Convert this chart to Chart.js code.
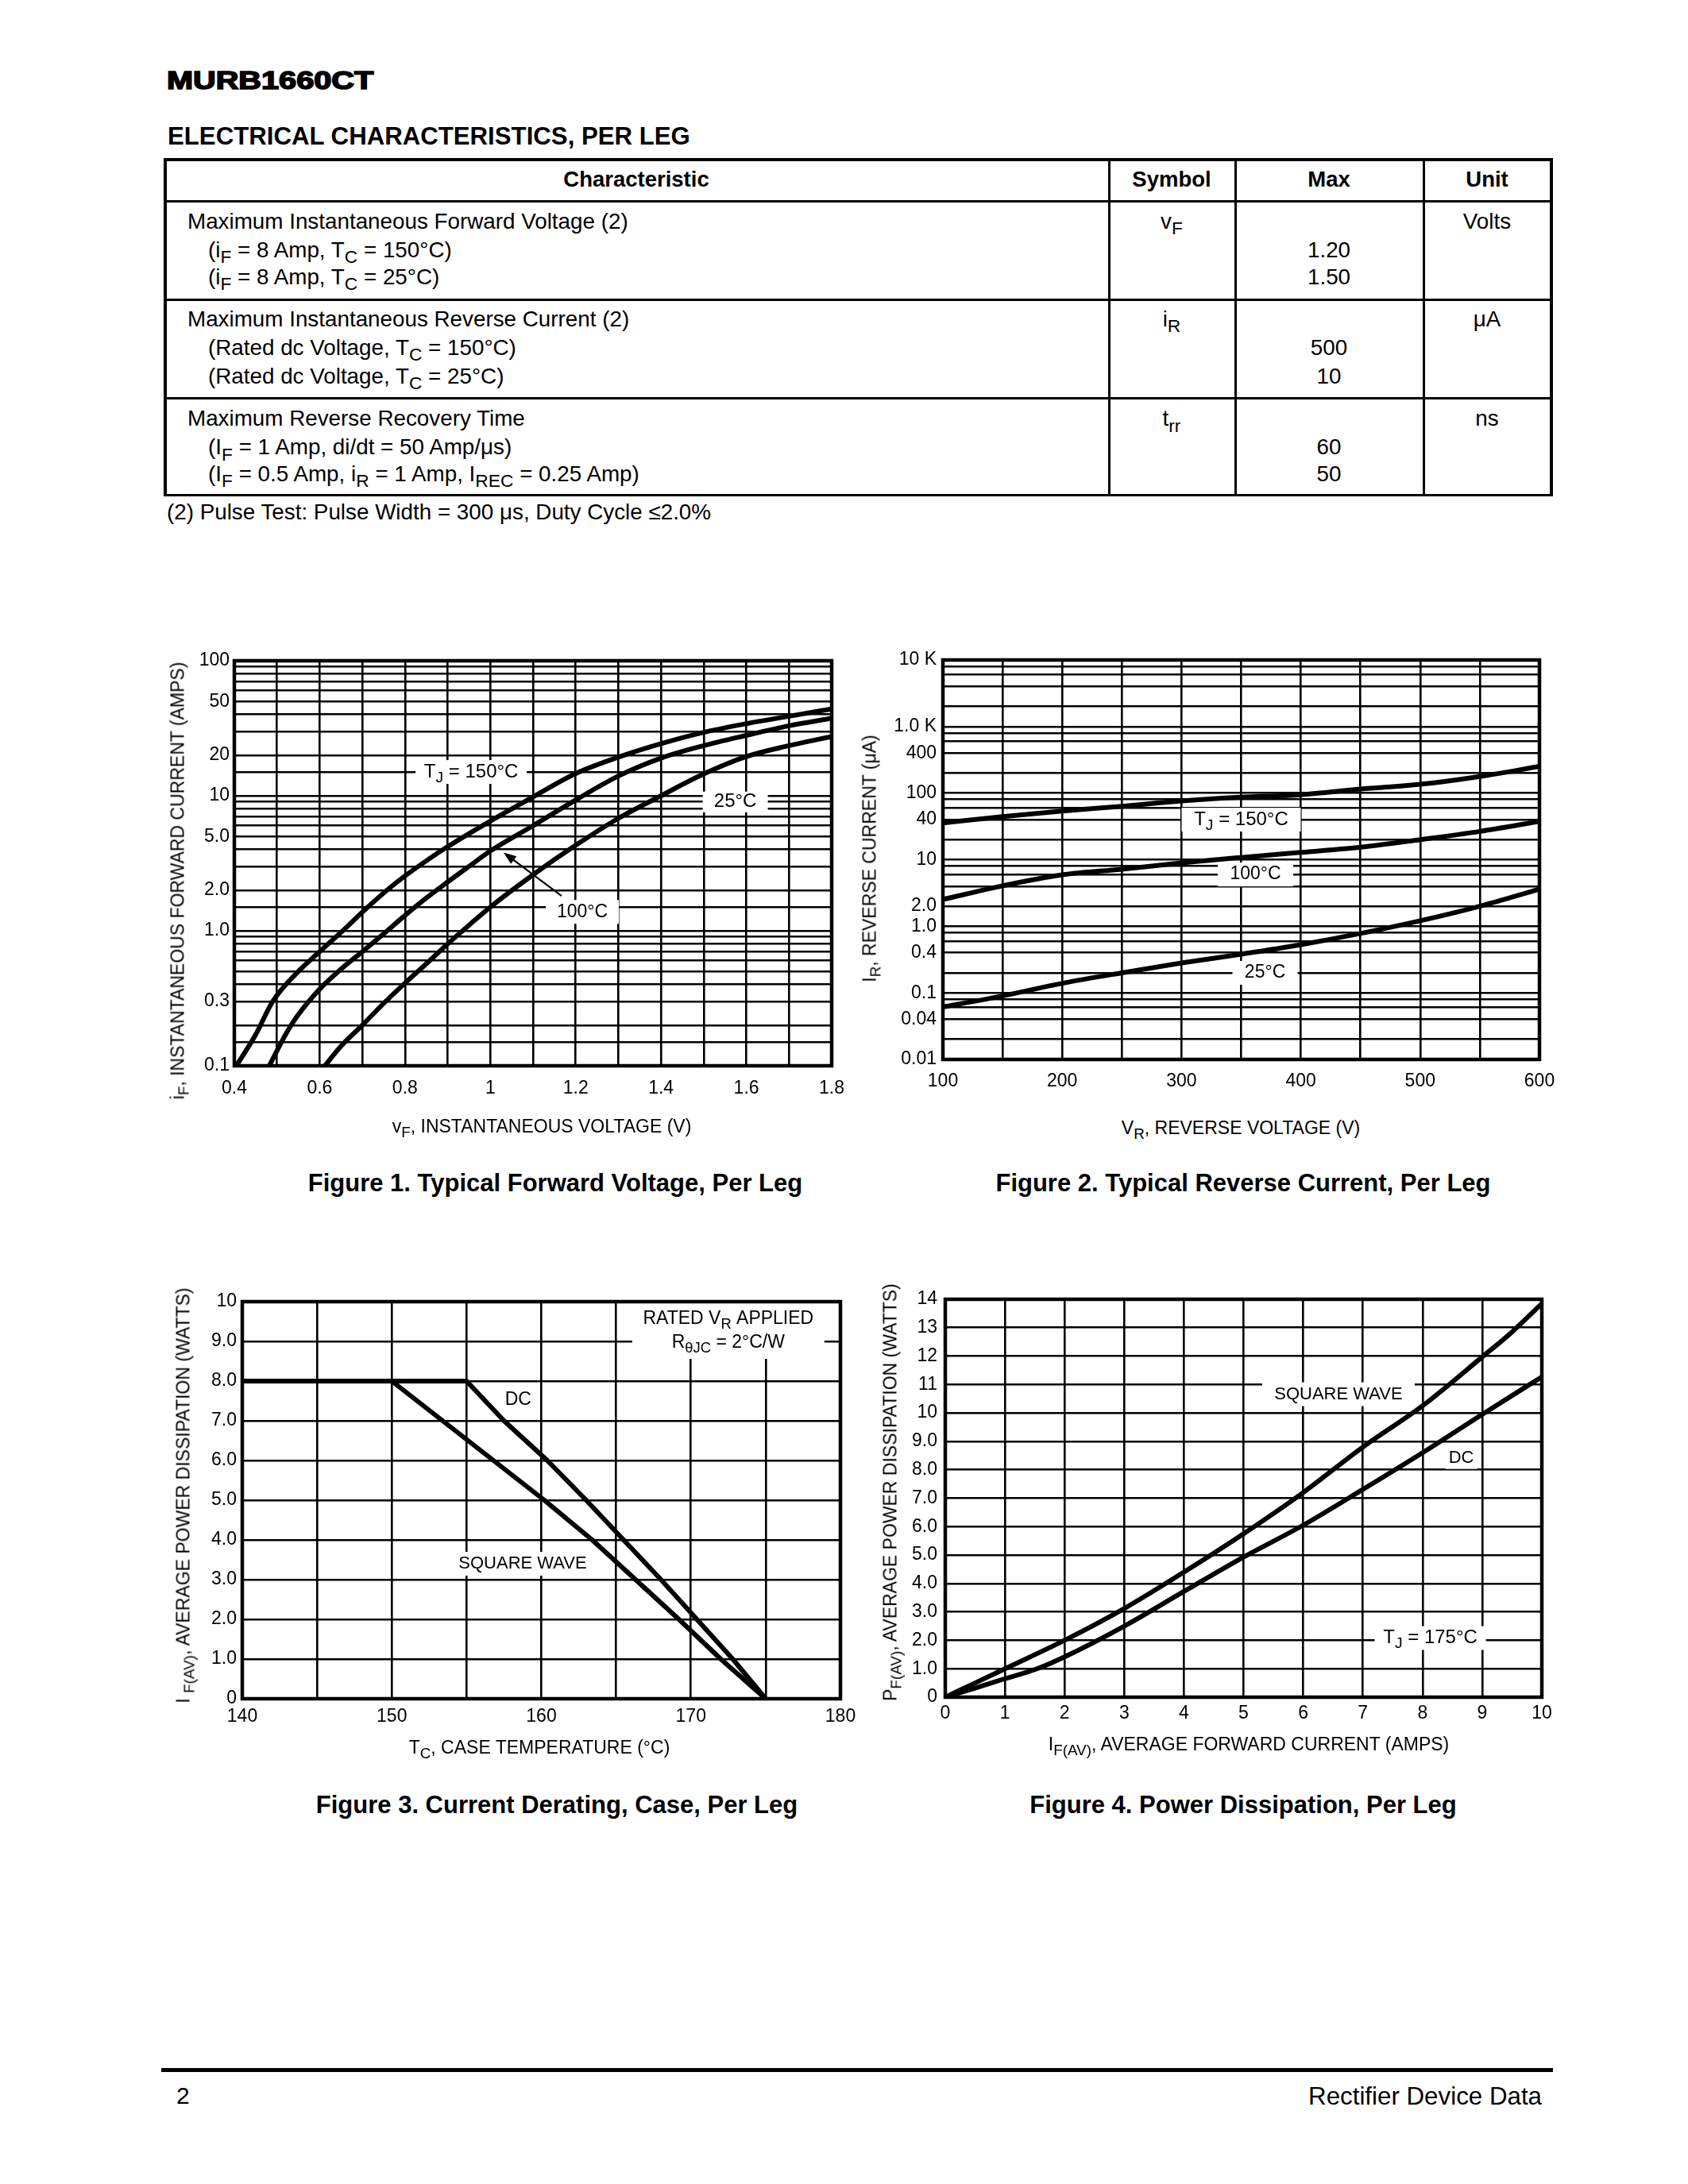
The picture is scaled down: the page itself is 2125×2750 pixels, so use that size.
<!DOCTYPE html>
<html>
<head>
<meta charset="utf-8">
<title>MURB1660CT</title>
<script src="https://cdn.jsdelivr.net/npm/chart.js@4.4.1/dist/chart.umd.min.js"></script>
<style>
html,body{margin:0;padding:0;background:#fff;}
body{position:relative;width:2125px;height:2750px;overflow:hidden;font-family:"Liberation Sans",Arial,Helvetica,sans-serif;color:#000;}
.tx{position:absolute;white-space:nowrap;line-height:1;}
.sb{font-size:0.82em;position:relative;top:0.32em;}
.hl{position:absolute;background:#000;}
canvas{position:absolute;}
</style>
</head>
<body>
<script>
// ---------------- DATA ----------------
// Figure 1: forward voltage (V) vs forward current (A), log current axis
const fig1V150 = [0.405,0.45,0.49,0.55,0.6,0.654,0.708,0.758,0.8,0.85,0.9,1.0,1.1,1.2,1.3,1.4,1.5,1.6,1.7,1.8];
const fig1I150 = [0.1,0.17,0.3,0.5,0.7,1.0,1.45,2.0,2.55,3.3,4.2,6.5,9.8,14.6,19.3,24.3,29.5,34.2,38.8,44];
const fig1V100 = [0.482,0.52,0.546,0.6,0.65,0.7,0.75,0.8,0.85,0.9,0.95,1.0,1.1,1.2,1.3,1.4,1.5,1.6,1.7,1.8];
const fig1I100 = [0.1,0.17,0.23,0.37,0.52,0.7,0.95,1.3,1.75,2.3,3.0,3.9,6.0,9.3,14,19,23.5,28,33,37.5];
const fig1V25  = [0.612,0.65,0.7,0.75,0.8,0.85,0.9,0.95,1.0,1.1,1.2,1.3,1.4,1.5,1.6,1.7,1.8];
const fig1I25  = [0.1,0.14,0.2,0.29,0.41,0.57,0.8,1.1,1.5,2.6,4.3,6.8,10,14.5,19.5,23.5,27.5];
const fig1XTicks = [0.4,0.5,0.6,0.7,0.8,0.9,1.0,1.1,1.2,1.3,1.4,1.5,1.6,1.7,1.8];
const fig1XLabels = ['0.4','','0.6','','0.8','','1','','1.2','','1.4','','1.6','','1.8'];
const fig1YTicks = [0.1,0.15,0.2,0.3,0.4,0.5,0.6,0.7,0.8,0.9,1,1.5,2,3,4,5,6,7,8,9,10,15,20,30,40,50,60,70,80,90,100];
const fig1YLabels = ['0.1','','','0.3','','','','','','','1.0','','2.0','','','5.0','','','','','10','','20','','','50','','','','','100'];

// Figure 2: reverse voltage (V) vs reverse current (uA), log current axis
const fig2Volt = [100,150,200,250,300,350,400,450,500,550,600];
const fig2I150 = [35.6,44.3,53.8,63.3,76.2,86.9,94.7,115,135.5,178,252];
const fig2I100 = [2.53,4.05,5.92,7.2,8.94,10.8,12.9,15.4,20,26.6,37.6];
const fig2I25  = [0.0614,0.0898,0.139,0.2,0.281,0.381,0.53,0.78,1.21,2.0,3.6];
const fig2XTicks = [100,150,200,250,300,350,400,450,500,550,600];
const fig2XLabels = ['100','','200','','300','','400','','500','','600'];
const fig2YTicks = [0.01,0.02,0.04,0.06,0.08,0.1,0.2,0.4,0.6,0.8,1,2,4,6,8,10,20,40,60,80,100,200,400,600,800,1000,2000,4000,6000,8000,10000];
const fig2YLabels = ['0.01','','0.04','','','0.1','','0.4','','','1.0','2.0','','','','10','','40','','','100','','400','','','1.0 K','','','','','10 K'];

// Figure 3: case temperature (C) vs average current derating
const fig3TempDC = [140,155,157.5,160.4,163.0,165.5,168.0,170.4,172.8,175];
const fig3DC     = [8,8,7,6,5,4,3,2,1,0];
const fig3TempSQ = [140,150,153.4,156.8,160.2,163.4,166.3,169.2,172,175];
const fig3SQ     = [8,8,7,6,5,4,3,2,1,0];
const fig3XTicks = [140,145,150,155,160,165,170,175,180];
const fig3XLabels = ['140','','150','','160','','170','','180'];
const fig3YTicks = [0,1,2,3,4,5,6,7,8,9,10];
const fig3YLabels = ['0','1.0','2.0','3.0','4.0','5.0','6.0','7.0','8.0','9.0','10'];

// Figure 4: average forward current (A) vs power dissipation (W)
const fig4AmpSQ = [0,0.5,1,2,3,4,5,6,7,8,9,9.5,10];
const fig4SQ    = [0,0.5,1.0,2.0,3.12,4.4,5.75,7.2,8.8,10.25,11.97,12.85,13.85];
const fig4AmpDC = [0,0.5,1,1.5,2,3,4,5,6,7,8,9,10];
const fig4DC    = [0,0.32,0.65,0.97,1.42,2.5,3.72,4.93,6.05,7.31,8.6,9.95,11.27];
const fig4XTicks = [0,1,2,3,4,5,6,7,8,9,10];
const fig4XLabels = ['0','1','2','3','4','5','6','7','8','9','10'];
const fig4YTicks = [0,1,2,3,4,5,6,7,8,9,10,11,12,13,14];
const fig4YLabels = ['0','1.0','2.0','3.0','4.0','5.0','6.0','7.0','8.0','9.0','10','11','12','13','14'];

// ---------------- PAGE TEXT HELPERS ----------------
function addText(html, x, y, size, o) {
  o = o || {};
  const d = document.createElement('div');
  d.className = 'tx';
  d.innerHTML = html;
  d.style.fontSize = size + 'px';
  if (o.bold) d.style.fontWeight = 'bold';
  d.style.left = x + 'px';
  let tf = '';
  if (o.rotate) {
    d.style.top = y + 'px';
    tf = 'translate(-50%,-50%) rotate(-90deg)';
  } else {
    d.style.top = (y - 0.49 * size) + 'px';
    if (o.align === 'center') tf = 'translateX(-50%)';
    if (o.align === 'right') tf = 'translateX(-100%)';
  }
  if (o.scaleX) { tf += ' scaleX(' + o.scaleX + ')'; d.style.transformOrigin = 'left center'; }
  if (o.stroke) d.style.webkitTextStroke = o.stroke + 'px #000';
  d.style.transform = tf;
  document.body.appendChild(d);
}
function addRect(x, y, w, h) {
  const d = document.createElement('div');
  d.className = 'hl';
  d.style.left = x + 'px'; d.style.top = y + 'px';
  d.style.width = w + 'px'; d.style.height = h + 'px';
  document.body.appendChild(d);
}
const S = s => '<span class="sb">' + s + '</span>';

// ---------------- HEADER + TABLE ----------------
addText('MURB1660CT', 210, 101, 31, {bold: true, scaleX: 1.28, stroke: 1.6});
addText('ELECTRICAL CHARACTERISTICS, PER LEG', 211, 171, 31.2, {bold: true});

const colX = [206, 1395, 1554, 1791, 1951];
const rowY = [199, 252, 375.5, 499.5, 621.5];
rowY.forEach((y, i) => addRect(206, y, 1749, (i === 0 || i === 4) ? 3.5 : 3));
colX.forEach((x, i) => addRect(x, 199, (i === 0 || i === 4) ? 3.5 : 2.5, 426));

addText('Characteristic', 801, 225, 27.5, {bold: true, align: 'center'});
addText('Symbol', 1475, 225, 27.5, {bold: true, align: 'center'});
addText('Max', 1673, 225, 27.5, {bold: true, align: 'center'});
addText('Unit', 1872, 225, 27.5, {bold: true, align: 'center'});

const rows = [
  {y: [278.6, 314.4, 348.2],
   lines: ['Maximum Instantaneous Forward Voltage (2)', '(i' + S('F') + ' = 8 Amp, T' + S('C') + ' = 150°C)', '(i' + S('F') + ' = 8 Amp, T' + S('C') + ' = 25°C)'],
   sym: 'v' + S('F'), max: ['1.20', '1.50'], unit: 'Volts'},
  {y: [401.8, 437.6, 473.4],
   lines: ['Maximum Instantaneous Reverse Current (2)', '(Rated dc Voltage, T' + S('C') + ' = 150°C)', '(Rated dc Voltage, T' + S('C') + ' = 25°C)'],
   sym: 'i' + S('R'), max: ['500', '10'], unit: 'μA'},
  {y: [527, 563, 596.6],
   lines: ['Maximum Reverse Recovery Time', '(I' + S('F') + ' = 1 Amp, di/dt = 50 Amp/μs)', '(I' + S('F') + ' = 0.5 Amp, i' + S('R') + ' = 1 Amp, I' + S('REC') + ' = 0.25 Amp)'],
   sym: 't' + S('rr'), max: ['60', '50'], unit: 'ns'}
];
rows.forEach(r => {
  r.lines.forEach((t, i) => addText(t, i === 0 ? 236 : 262, r.y[i], 27.8));
  addText(r.sym, 1475, r.y[0], 27.8, {align: 'center'});
  addText(r.max[0], 1673, r.y[1], 27.8, {align: 'center'});
  addText(r.max[1], 1673, r.y[2], 27.8, {align: 'center'});
  addText(r.unit, 1872, r.y[0], 27.8, {align: 'center'});
});
addText('(2) Pulse Test: Pulse Width = 300 μs, Duty Cycle ≤2.0%', 210, 645, 27.8);

// ---------------- CHART PLUGIN ----------------
function drawParts(ctx, parts, cx, cy, size) {
  const fontFor = sub => (sub ? size * 0.8 : size) + 'px "Liberation Sans", Arial, sans-serif';
  let total = 0;
  parts.forEach(p => { ctx.font = fontFor(p[1]); total += ctx.measureText(p[0]).width; });
  let x = cx - total / 2;
  ctx.textBaseline = 'middle';
  ctx.textAlign = 'left';
  parts.forEach(p => {
    ctx.font = fontFor(p[1]);
    ctx.fillText(p[0], x, cy + (p[1] ? size * 0.3 : 0));
    x += ctx.measureText(p[0]).width;
  });
}
const sheetPlugin = {
  id: 'sheet',
  beforeDatasetsDraw(chart, args, opts) {
    const ctx = chart.ctx;
    ctx.save();
    (opts.notes || []).forEach(n => {
      const px = chart.scales.x.getPixelForValue(n.x);
      const py = chart.scales.y.getPixelForValue(n.y);
      ctx.fillStyle = '#fff';
      ctx.fillRect(px - n.w / 2, py - n.h / 2, n.w, n.h);
      ctx.fillStyle = '#000';
      const gap = n.gap || 30;
      n.lines.forEach((parts, i) => drawParts(ctx, parts, px, py + (i - (n.lines.length - 1) / 2) * gap, n.size || 23));
    });
    ctx.restore();
  },
  afterDatasetsDraw(chart, args, opts) {
    const ctx = chart.ctx, a = chart.chartArea;
    ctx.save();
    (opts.arrows || []).forEach(ar => {
      const x0 = chart.scales.x.getPixelForValue(ar.from[0]), y0 = chart.scales.y.getPixelForValue(ar.from[1]);
      const x1 = chart.scales.x.getPixelForValue(ar.to[0]), y1 = chart.scales.y.getPixelForValue(ar.to[1]);
      const ang = Math.atan2(y1 - y0, x1 - x0), hl = 16, hw = 6;
      ctx.strokeStyle = '#000'; ctx.lineWidth = 2.2;
      ctx.beginPath(); ctx.moveTo(x0, y0);
      ctx.lineTo(x1 - Math.cos(ang) * hl * 0.8, y1 - Math.sin(ang) * hl * 0.8); ctx.stroke();
      ctx.fillStyle = '#000';
      ctx.beginPath(); ctx.moveTo(x1, y1);
      ctx.lineTo(x1 - Math.cos(ang) * hl - Math.sin(ang) * hw, y1 - Math.sin(ang) * hl + Math.cos(ang) * hw);
      ctx.lineTo(x1 - Math.cos(ang) * hl + Math.sin(ang) * hw, y1 - Math.sin(ang) * hl - Math.cos(ang) * hw);
      ctx.closePath(); ctx.fill();
    });
    ctx.strokeStyle = '#000';
    ctx.lineWidth = opts.frame || 4.5;
    ctx.strokeRect(a.left, a.top, a.right - a.left, a.bottom - a.top);
    ctx.restore();
  }
};
Chart.register(sheetPlugin);
Chart.defaults.font.family = '"Liberation Sans", Arial, sans-serif';
Chart.defaults.color = '#000';

function axis(c, horiz, size, ts) {
  return {
    type: c.type || 'linear', min: c.min, max: c.max, position: horiz ? 'bottom' : 'left',
    afterFit(s) { if (horiz) s.height = size; else s.width = size; },
    afterBuildTicks(s) { s.ticks = c.values.map(v => ({value: v})); },
    grid: {color: '#000', lineWidth: 2.6, drawTicks: false},
    border: {display: false},
    ticks: {autoSkip: false, maxRotation: 0, minRotation: 0, padding: c.pad, color: '#000',
            font: {size: ts}, callback: (v, i) => c.labels[i]}
  };
}
function pts(xs, ys) { return xs.map((x, i) => ({x: x, y: ys[i]})); }

function makeChart(box, xc, yc, series, smooth, sheet, ts) {
  const padL = 120, padT = 24, padR = 40, padB = 70;
  const w = box.R - box.L + padL + padR, h = box.B - box.T + padT + padB;
  const cv = document.createElement('canvas');
  cv.width = w; cv.height = h;
  cv.style.left = (box.L - padL) + 'px'; cv.style.top = (box.T - padT) + 'px';
  cv.style.width = w + 'px'; cv.style.height = h + 'px';
  document.body.appendChild(cv);
  new Chart(cv.getContext('2d'), {
    type: 'scatter',
    data: {datasets: series.map(d => ({
      data: d, showLine: true, borderColor: '#000', backgroundColor: '#000', borderWidth: 6,
      pointRadius: 0, pointHoverRadius: 0, fill: false,
      tension: smooth ? 0.4 : 0, cubicInterpolationMode: smooth ? 'monotone' : 'default',
      borderCapStyle: 'butt', borderJoinStyle: 'round'
    }))},
    options: {
      responsive: false, animation: false, devicePixelRatio: 1, events: [],
      layout: {autoPadding: false, padding: {left: 0, top: padT, right: padR, bottom: 0}},
      plugins: {legend: {display: false}, tooltip: {enabled: false}, sheet: sheet},
      scales: {x: axis(xc, true, padB, ts), y: axis(yc, false, padL, ts)}
    }
  });
}

// ---------------- FIGURE 1 ----------------
makeChart({L: 295, T: 832, R: 1047, B: 1342},
  {min: 0.4, max: 1.8, values: fig1XTicks, labels: fig1XLabels, pad: 15},
  {type: 'logarithmic', min: 0.1, max: 100, values: fig1YTicks, labels: fig1YLabels, pad: 6},
  [pts(fig1V150, fig1I150), pts(fig1V100, fig1I100), pts(fig1V25, fig1I25)], true,
  {notes: [
    {x: 0.955, y: 15, w: 140, h: 30, size: 24, lines: [[['T', 0], ['J', 1], [' = 150°C', 0]]]},
    {x: 1.574, y: 9.0, w: 82, h: 26, size: 24, lines: [[['25°C', 0]]]},
    {x: 1.2155, y: 1.38, w: 92, h: 30, size: 23, lines: [[['100°C', 0]]]}
   ],
   arrows: [{from: [1.167, 1.81], to: [1.031, 3.8]}]}, 23);
addText('i' + S('F') + ', INSTANTANEOUS FORWARD CURRENT (AMPS)', 224, 1109, 23, {rotate: true});
addText('v' + S('F') + ', INSTANTANEOUS VOLTAGE (V)', 682, 1418, 23, {align: 'center'});
addText('Figure 1. Typical Forward Voltage, Per Leg', 699, 1489, 31, {bold: true, align: 'center'});

// ---------------- FIGURE 2 ----------------
makeChart({L: 1187, T: 831, R: 1938, B: 1334},
  {min: 100, max: 600, values: fig2XTicks, labels: fig2XLabels, pad: 14},
  {type: 'logarithmic', min: 0.01, max: 10000, values: fig2YTicks, labels: fig2YLabels, pad: 8},
  [pts(fig2Volt, fig2I150), pts(fig2Volt, fig2I100), pts(fig2Volt, fig2I25)], true,
  {notes: [
    {x: 350, y: 40, w: 150, h: 30, size: 24, lines: [[['T', 0], ['J', 1], [' = 150°C', 0]]]},
    {x: 362, y: 6, w: 95, h: 30, size: 23, lines: [[['100°C', 0]]]},
    {x: 370, y: 0.2, w: 82, h: 30, size: 23, lines: [[['25°C', 0]]]}
  ]}, 23);
addText('I' + S('R') + ', REVERSE CURRENT (μA)', 1095, 1081, 23, {rotate: true});
addText('V' + S('R') + ', REVERSE VOLTAGE (V)', 1562, 1420, 23, {align: 'center'});
addText('Figure 2. Typical Reverse Current, Per Leg', 1565, 1489, 31, {bold: true, align: 'center'});

// ---------------- FIGURE 3 ----------------
makeChart({L: 305, T: 1639, R: 1058, B: 2139},
  {min: 140, max: 180, values: fig3XTicks, labels: fig3XLabels, pad: 9},
  {min: 0, max: 10, values: fig3YTicks, labels: fig3YLabels, pad: 7},
  [pts(fig3TempDC, fig3DC), pts(fig3TempSQ, fig3SQ)], false,
  {notes: [
    {x: 172.5, y: 9.26, w: 242, h: 70, size: 23, gap: 30,
     lines: [[['RATED V', 0], ['R', 1], [' APPLIED', 0]], [['R', 0], ['θJC', 1], [' = 2°C/W', 0]]]},
    {x: 158.45, y: 7.52, w: 44, h: 30, size: 23, lines: [[['DC', 0]]]},
    {x: 158.75, y: 3.40, w: 170, h: 30, size: 22, lines: [[['SQUARE WAVE', 0]]]}
  ]}, 23);
addText('I ' + S('F(AV)') + ', AVERAGE POWER DISSIPATION (WATTS)', 231, 1883, 23, {rotate: true});
addText('T' + S('C') + ', CASE TEMPERATURE (°C)', 679, 2200, 23, {align: 'center'});
addText('Figure 3. Current Derating, Case, Per Leg', 701, 2272, 31, {bold: true, align: 'center'});

// ---------------- FIGURE 4 ----------------
makeChart({L: 1190, T: 1636, R: 1941, B: 2137},
  {min: 0, max: 10, values: fig4XTicks, labels: fig4XLabels, pad: 7},
  {min: 0, max: 14, values: fig4YTicks, labels: fig4YLabels, pad: 10},
  [pts(fig4AmpSQ, fig4SQ), pts(fig4AmpDC, fig4DC)], true,
  {notes: [
    {x: 6.59, y: 10.66, w: 192, h: 30, size: 22, lines: [[['SQUARE WAVE', 0]]]},
    {x: 8.65, y: 8.42, w: 40, h: 28, size: 22, lines: [[['DC', 0]]]},
    {x: 8.13, y: 2.08, w: 140, h: 30, size: 24, lines: [[['T', 0], ['J', 1], [' = 175°C', 0]]]}
  ]}, 23);
addText('P' + S('F(AV)') + ', AVERAGE POWER DISSIPATION (WATTS)', 1121, 1879, 23, {rotate: true});
addText('I' + S('F(AV)') + ', AVERAGE FORWARD CURRENT (AMPS)', 1572, 2196, 23, {align: 'center'});
addText('Figure 4. Power Dissipation, Per Leg', 1565, 2272, 31, {bold: true, align: 'center'});

// ---------------- FOOTER ----------------
addRect(203, 2604, 1752, 5);
addText('2', 222, 2639, 30);
addText('Rectifier Device Data', 1941, 2639, 31.3, {align: 'right'});
</script>
</body>
</html>
